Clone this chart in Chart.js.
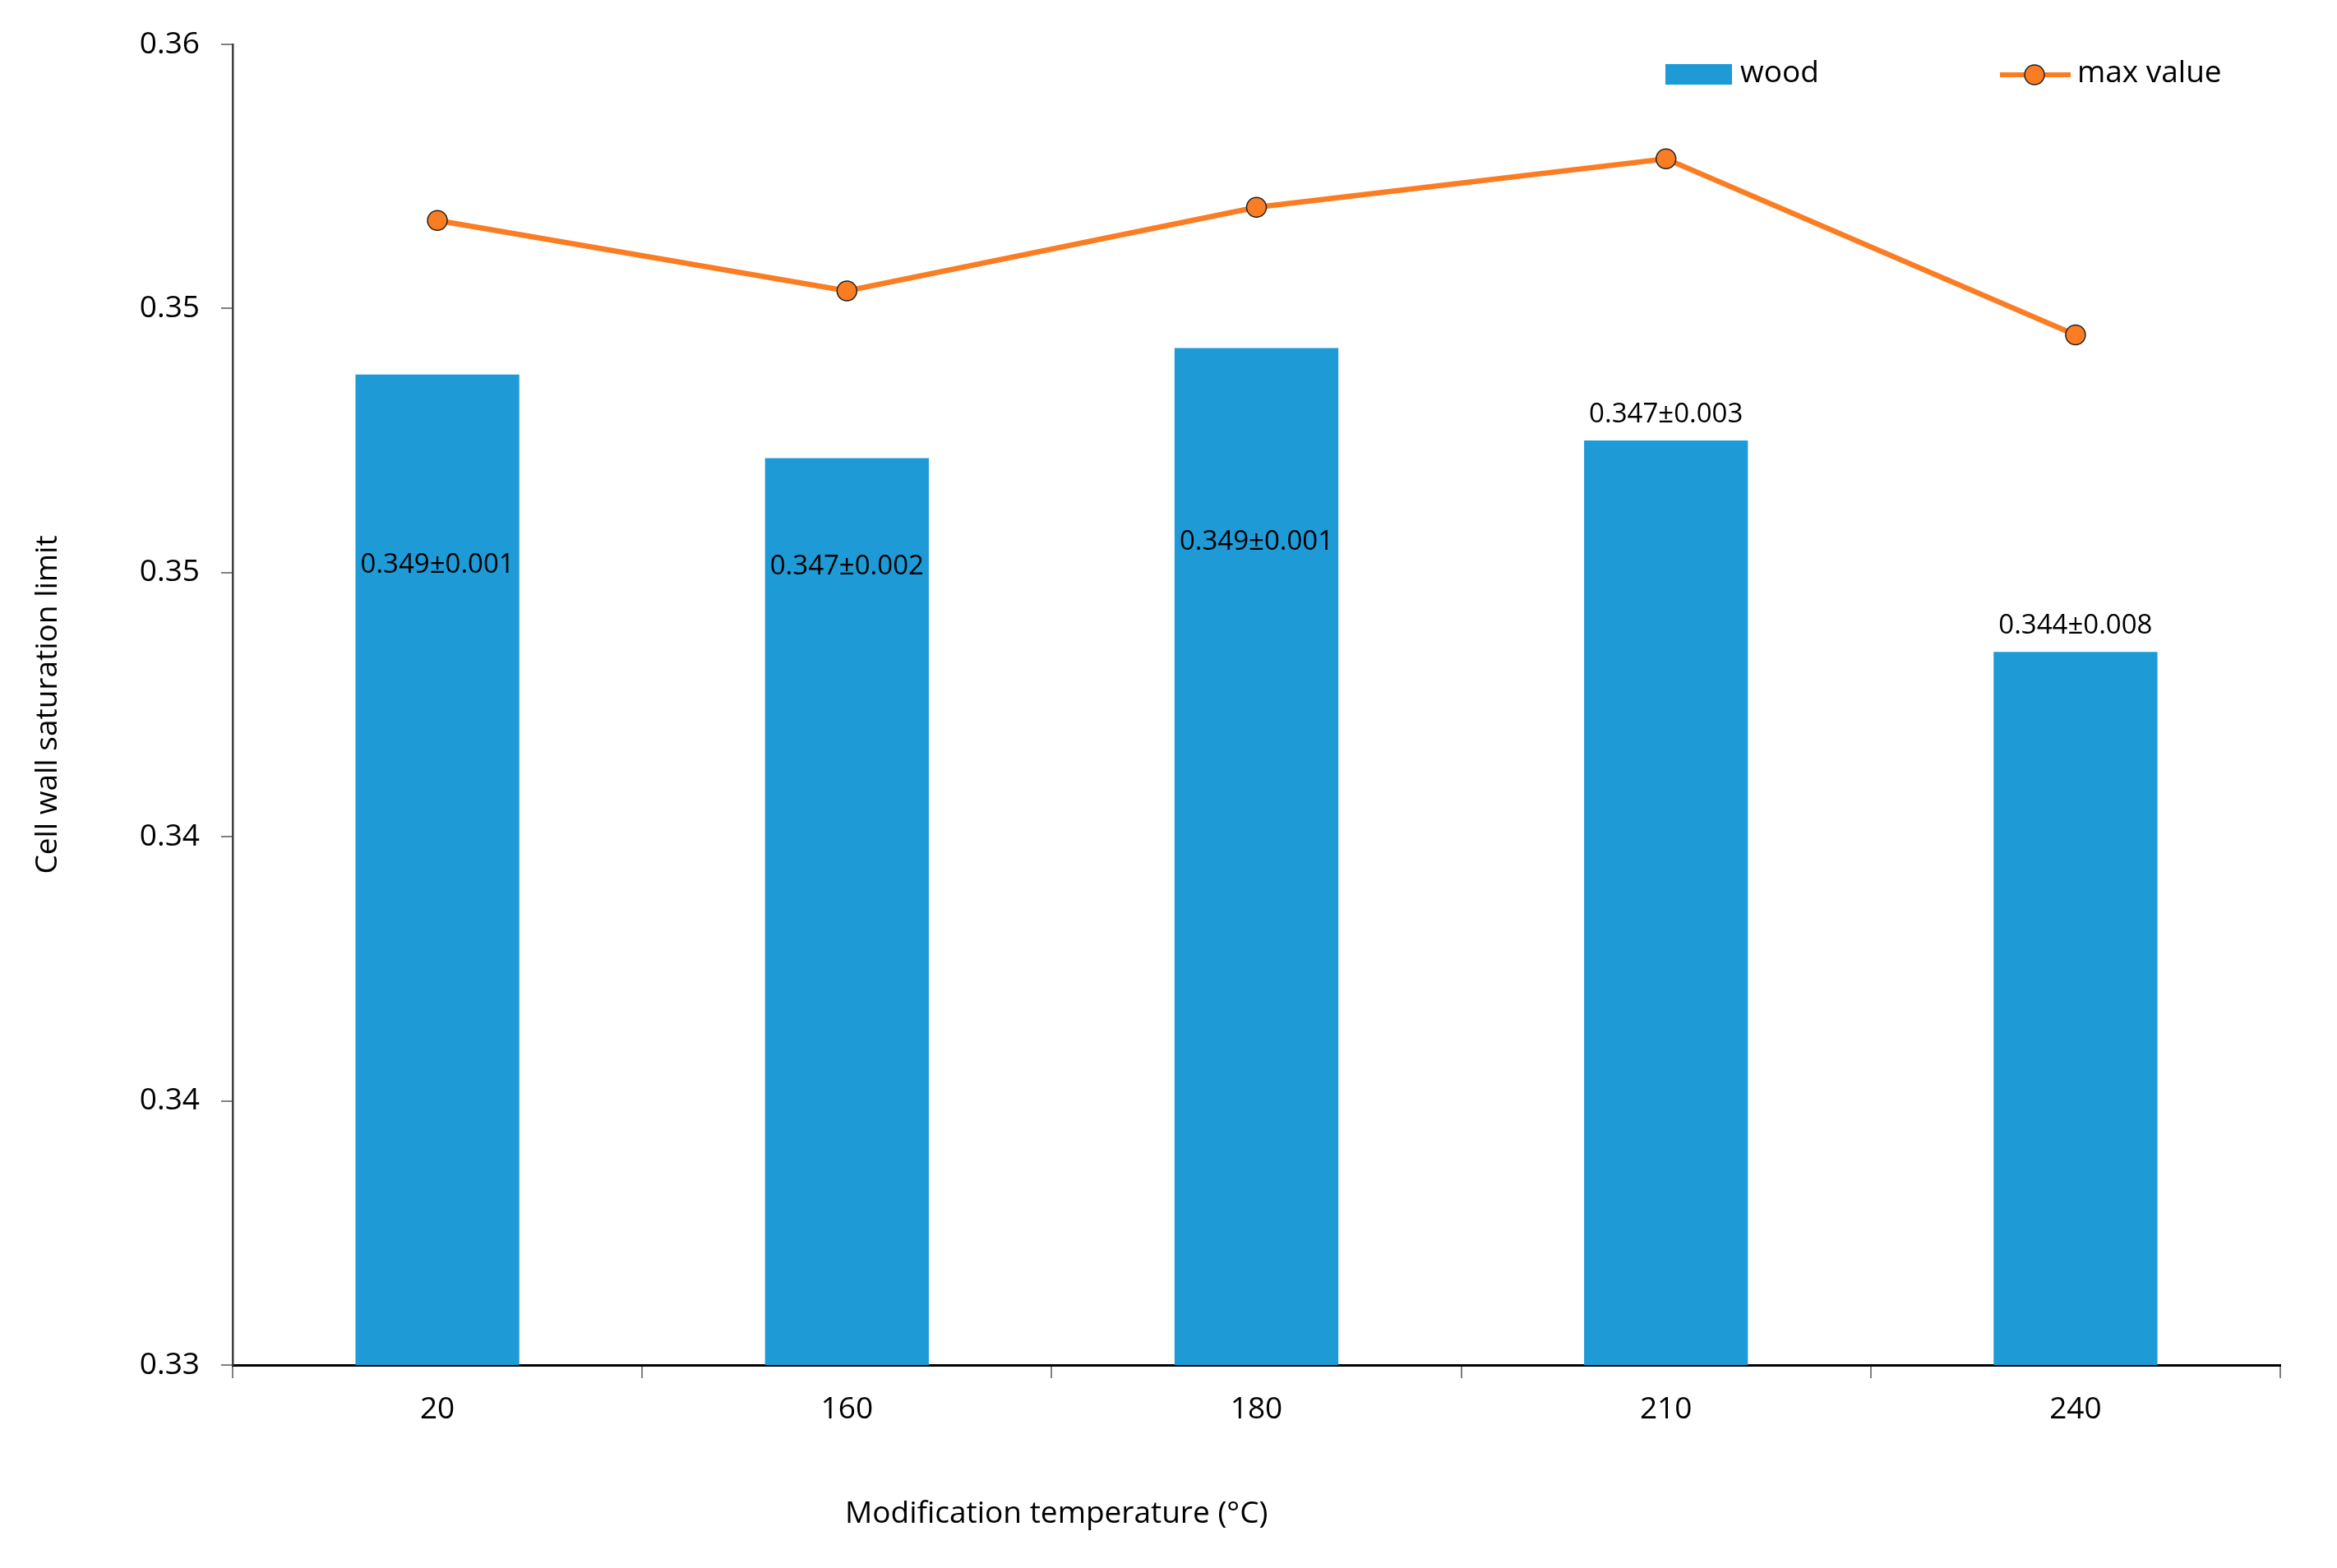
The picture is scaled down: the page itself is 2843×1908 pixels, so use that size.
<!DOCTYPE html>
<html>
<head>
<meta charset="utf-8">
<script src="https://cdn.jsdelivr.net/npm/chart.js@4.4.1/dist/chart.umd.min.js"></script>
<style>
  html, body { margin: 0; padding: 0; background: #ffffff; }
</style>
</head>
<body>
<canvas id="satChart" width="2843" height="1908"></canvas>
<script>
// values
const temperatures = ['20', '160', '180', '210', '240'];
const woodValues = [0.3525, 0.3506, 0.3531, 0.3510, 0.3462];
const maxValues = [0.3560, 0.3544, 0.3563, 0.3574, 0.3534];
const meanLabels = ['0.349±0.001', '0.347±0.002', '0.349±0.001', '0.347±0.003', '0.344±0.008'];
const yTickValues = [0.33, 0.336, 0.342, 0.348, 0.354, 0.36];

const FONT = '"Open Sans", "Liberation Sans", sans-serif';
const BLUE = '#1E9BD7';
const ORANGE = '#FA7D24';

// data labels, custom legend and the off-centre x title
const annotate = {
    id: 'annotate',
    afterDatasetsDraw(chart, args, opts) {
        const ctx = chart.ctx;
        const yScale = chart.scales.y;
        const bars = chart.getDatasetMeta(1).data;
        ctx.save();
        ctx.fillStyle = '#000';
        ctx.textBaseline = 'middle';

        // value labels (some sit inside the bar, some above it)
        ctx.font = '33px ' + FONT;
        ctx.textAlign = 'center';
        bars.forEach((bar, i) => {
            const at = opts.insideAt[i];
            const py = at != null ? yScale.getPixelForValue(at) : bar.y - 32;
            ctx.fillText(meanLabels[i], bar.x, py);
        });

        // legend
        ctx.font = '37px ' + FONT;
        ctx.textAlign = 'left';
        ctx.fillStyle = BLUE;
        ctx.fillRect(2026, 78, 81, 25);
        ctx.fillStyle = '#000';
        ctx.fillText('wood', 2117, 89);

        ctx.strokeStyle = ORANGE;
        ctx.lineWidth = 6;
        ctx.beginPath();
        ctx.moveTo(2433, 91);
        ctx.lineTo(2519, 91);
        ctx.stroke();
        ctx.beginPath();
        ctx.arc(2475, 91, 12, 0, Math.PI * 2);
        ctx.fillStyle = ORANGE;
        ctx.fill();
        ctx.lineWidth = 1.5;
        ctx.strokeStyle = '#222';
        ctx.stroke();
        ctx.fillStyle = '#000';
        ctx.fillText('max value', 2527, 89);

        // x axis title
        ctx.fillText('Modification temperature (°C)', 1028, 1842);
        ctx.restore();
    }
};

const ctx = document.getElementById('satChart');
new Chart(ctx, {
    data: {
        labels: temperatures,
        datasets: [
            {
                type: 'line',
                label: 'max value',
                data: maxValues,
                borderColor: ORANGE,
                borderWidth: 6.5,
                pointRadius: 12,
                pointBackgroundColor: ORANGE,
                pointBorderColor: '#222',
                pointBorderWidth: 1.5,
                tension: 0,
                order: 0
            },
            {
                type: 'bar',
                label: 'wood',
                data: woodValues,
                backgroundColor: BLUE,
                barPercentage: 0.4,
                categoryPercentage: 1.0,
                order: 1
            }
        ]
    },
    options: {
        responsive: false,
        animation: false,
        layout: { padding: { top: 54, right: 69, bottom: 0, left: 0 } },
        plugins: {
            legend: { display: false },
            tooltip: { enabled: false },
            annotate: { insideAt: [0.34818, 0.34814, 0.3487, null, null] }
        },
        scales: {
            x: {
                offset: true,
                grid: {
                    offset: true,
                    drawOnChartArea: false,
                    drawTicks: true,
                    tickLength: 16,
                    color: '#808080',
                    lineWidth: 2
                },
                border: { color: '#000', width: 3 },
                ticks: {
                    color: '#000',
                    padding: 16,
                    font: { family: FONT, size: 37 }
                },
                afterFit(scale) { scale.height = 247; }
            },
            y: {
                min: 0.33,
                max: 0.36,
                afterBuildTicks(scale) {
                    scale.ticks = yTickValues.map(v => ({ value: v }));
                },
                grid: {
                    drawOnChartArea: false,
                    drawTicks: true,
                    tickLength: 14,
                    color: '#808080',
                    lineWidth: 2
                },
                border: { color: '#404040', width: 2.5 },
                ticks: {
                    color: '#000',
                    padding: 26,
                    font: { family: FONT, size: 37 },
                    callback: v => Number(v).toFixed(2)
                },
                title: {
                    display: true,
                    text: 'Cell wall saturation limit',
                    color: '#000',
                    font: { family: FONT, size: 37 },
                    padding: { top: 36, bottom: 0 }
                },
                afterFit(scale) { scale.width = 283; }
            }
        }
    },
    plugins: [annotate]
});
</script>
</body>
</html>
